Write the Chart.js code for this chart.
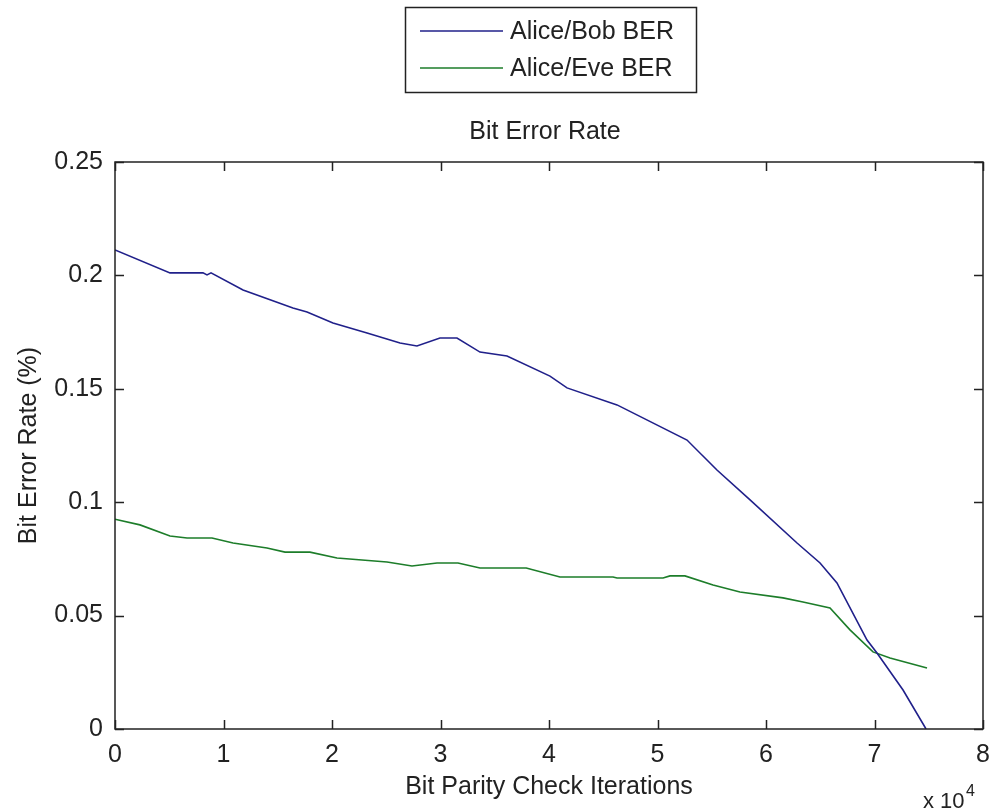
<!DOCTYPE html>
<html>
<head>
<meta charset="utf-8">
<title>Bit Error Rate</title>
<script src="https://cdn.jsdelivr.net/npm/chart.js@4.4.0/dist/chart.umd.min.js"></script>
<style>
  html, body { margin: 0; padding: 0; background: #fff; }
  #ber-chart { display: block; }
</style>
</head>
<body>
<canvas id="ber-chart" width="990" height="812"></canvas>
<script>
// ------------------------------------------------------
// data
// ------------------------------------------------------
const bobIter = [0, 5070, 8110, 8480, 8850, 11800, 16400, 17700, 20090, 23230, 26270, 27830, 29950, 31520, 33640, 36130, 40090, 41660, 46270, 52720, 55480, 58530, 62860, 64980, 66540, 69310, 70230, 72630, 74750];
const bobBer  = [0.2112, 0.2011, 0.2011, 0.2002, 0.2011, 0.1936, 0.1856, 0.1839, 0.179, 0.1746, 0.1702, 0.1689, 0.1724, 0.1724, 0.1662, 0.1645, 0.1556, 0.1504, 0.1429, 0.1274, 0.1142, 0.101, 0.082, 0.0732, 0.0644, 0.0392, 0.0335, 0.0172, 0];

const eveIter = [0, 2300, 5070, 6640, 8940, 10880, 14010, 15670, 17970, 20460, 25070, 27370, 29680, 31610, 33640, 37900, 41010, 45900, 46270, 50510, 51150, 52530, 55120, 57600, 61570, 63410, 65900, 67740, 69860, 71430, 74840];
const eveBer  = [0.0925, 0.09, 0.0851, 0.0842, 0.0842, 0.082, 0.0798, 0.078, 0.078, 0.0754, 0.0736, 0.0719, 0.0732, 0.0732, 0.071, 0.071, 0.067, 0.067, 0.0666, 0.0666, 0.0675, 0.0675, 0.0635, 0.0604, 0.0578, 0.056, 0.0534, 0.0437, 0.034, 0.0313, 0.0269];

const xTickValues = [0, 10000, 20000, 30000, 40000, 50000, 60000, 70000, 80000];
const yTickValues = [0, 0.05, 0.1, 0.15, 0.2, 0.25];

const seriesLabels = ['Alice/Bob BER', 'Alice/Eve BER'];
const chartTitle = 'Bit Error Rate';

const FONT = '"Liberation Sans", Arial, Helvetica, sans-serif';
const FS = 25;
const INK  = '#222222';
const BLUE = '#20208a';
const GREEN = '#1d7d2a';

const toPoints = (xs, ys) => xs.map((x, i) => ({ x: x, y: ys[i] }));

// ------------------------------------------------------
// matlab-ish frame: box, inward ticks, title, boxed legend, exponent
// ------------------------------------------------------
const matlabFrame = {
  id: 'matlabFrame',
  afterDraw(chart) {
    const ctx = chart.ctx;
    const a = chart.chartArea;
    const xs = chart.scales.x;
    const ys = chart.scales.y;
    const tl = 9;

    ctx.save();
    ctx.strokeStyle = INK;
    ctx.lineWidth = 1.5;
    ctx.strokeRect(a.left, a.top, a.right - a.left, a.bottom - a.top);

    ctx.beginPath();
    xTickValues.forEach(v => {
      const px = Math.round(xs.getPixelForValue(v)) + 0.5;
      ctx.moveTo(px, a.bottom); ctx.lineTo(px, a.bottom - tl);
      ctx.moveTo(px, a.top);    ctx.lineTo(px, a.top + tl);
    });
    yTickValues.forEach(v => {
      const py = Math.round(ys.getPixelForValue(v)) + 0.5;
      ctx.moveTo(a.left, py);  ctx.lineTo(a.left + tl, py);
      ctx.moveTo(a.right, py); ctx.lineTo(a.right - tl, py);
    });
    ctx.stroke();

    // title, centred over the axes box
    ctx.fillStyle = INK;
    ctx.font = FS + 'px ' + FONT;
    ctx.textAlign = 'center';
    ctx.textBaseline = 'middle';
    ctx.fillText(chartTitle, (a.left + a.right) / 2 - 4, 132);

    // legend box
    ctx.lineWidth = 1.5;
    ctx.strokeStyle = INK;
    ctx.strokeRect(405.5, 7.5, 291, 85);
    ctx.textAlign = 'left';
    const rows = [31, 68];
    chart.data.datasets.forEach((ds, i) => {
      ctx.strokeStyle = ds.borderColor;
      ctx.lineWidth = 1.5;
      ctx.beginPath();
      ctx.moveTo(420, rows[i]); ctx.lineTo(503, rows[i]);
      ctx.stroke();
      ctx.fillStyle = INK;
      ctx.fillText(ds.label, 510, rows[i] + 1);
    });

    // x 10^4
    ctx.textBaseline = 'alphabetic';
    ctx.font = '22px ' + FONT;
    ctx.fillText('x 10', 923, 808);
    ctx.font = '16px ' + FONT;
    ctx.fillText('4', 966, 796);
    ctx.restore();
  }
};

const berCanvas = document.getElementById('ber-chart');
const berCtx = berCanvas.getContext('2d');

new Chart(berCtx, {
  type: 'line',
  data: {
    datasets: [{
      label       : seriesLabels[0],
      data        : toPoints(bobIter, bobBer),
      borderColor : BLUE,
      borderWidth : 1.6,
      pointRadius : 0,
      tension     : 0,
      fill        : false,
    }, {
      label       : seriesLabels[1],
      data        : toPoints(eveIter, eveBer),
      borderColor : GREEN,
      borderWidth : 1.6,
      pointRadius : 0,
      tension     : 0,
      fill        : false,
    }],
  },
  options: {
    responsive: false,
    animation: false,
    layout: {
      padding: { left: 0, right: 7, top: 162, bottom: 0 },
    },
    plugins: {
      legend: { display: false },
      tooltip: { enabled: false },
      title: { display: false },
    },
    scales: {
      x: {
        type: 'linear',
        min: 0,
        max: 80000,
        afterBuildTicks: (scale) => { scale.ticks = xTickValues.map(v => ({ value: v })); },
        afterFit: (scale) => {
          scale.height = 83;
          scale.paddingLeft = 0;
          scale.paddingRight = 0;
        },
        grid: { display: false },
        border: { display: false },
        ticks: {
          color: INK,
          padding: 3,
          maxRotation: 0,
          font: { family: FONT, size: FS },
          callback: (v) => String(v / 10000),
        },
        title: {
          display: true,
          text: 'Bit Parity Check Iterations',
          color: INK,
          font: { family: FONT, size: FS, lineHeight: 1.2 },
          padding: { top: 10, bottom: 10 },
        },
      },
      y: {
        type: 'linear',
        min: 0,
        max: 0.25,
        afterBuildTicks: (scale) => { scale.ticks = yTickValues.map(v => ({ value: v })); },
        afterFit: (scale) => { scale.width = 115; },
        grid: { display: false },
        border: { display: false },
        ticks: {
          color: INK,
          padding: 4,
          font: { family: FONT, size: FS },
          callback: (v) => String(+v.toFixed(2)),
        },
        title: {
          display: true,
          text: 'Bit Error Rate (%)',
          color: INK,
          font: { family: FONT, size: FS, lineHeight: 1.2 },
          padding: { top: 14, bottom: 14 },
        },
      },
    },
  },
  plugins: [matlabFrame],
});
</script>
</body>
</html>
